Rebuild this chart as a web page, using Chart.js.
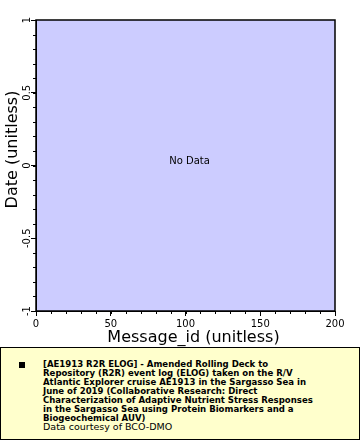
<!DOCTYPE html>
<html>
<head>
<meta charset="utf-8">
<script src="https://cdn.jsdelivr.net/npm/chart.js@4/dist/chart.umd.min.js"></script>
<style>
  html, body { margin: 0; padding: 0; background: #ffffff; }
  body { width: 360px; height: 440px; position: relative; overflow: hidden; }
  #wrap { position: absolute; left: 0; top: 0; width: 360px; height: 350px; }
  #legend {
    position: absolute; left: 0; top: 347px; width: 360px; height: 93px;
    box-sizing: border-box; border: 1px solid #000; background: #FFFFCC;
    color: #000;
  }
  #legend .mark { position: absolute; left: 18px; top: 14px; width: 6px; height: 6px; background: #000; }
  #legend .txt { position: absolute; left: 42px; top: 11px; width: 315px; font-size: 9.5px; line-height: 9px; }
  #legend .txt div { height: 9px; line-height: 9px; white-space: nowrap; }
  #legend .t { font-family: "DejaVu Sans Condensed", "DejaVu Sans", sans-serif; font-stretch: condensed; font-weight: bold; font-size: 9.5px; }
  #legend .c { font-family: "DejaVu Sans", sans-serif; font-size: 9.5px; }
</style>
</head>
<body>
<div id="wrap"><canvas id="c"></canvas></div>
<div id="legend">
  <div class="mark"></div>
  <div class="txt" id="ltxt"></div>
</div>
<script>
// ---- data (the dataset is empty: "No Data") ----
const messageIds = [];
const dates = [];
const xTickValues = [0, 50, 100, 150, 200];
const yTickValues = [-1, -0.5, 0, 0.5, 1];
const xMinorStep = 10;
const yMinorStep = 0.1;
const xTitle = "Message_id (unitless)";
const yTitle = "Date (unitless)";
const noDataText = "No Data";
const legendLines = [
  "[AE1913 R2R ELOG] - Amended Rolling Deck to",
  "Repository (R2R) event log (ELOG) taken on the R/V",
  "Atlantic Explorer cruise AE1913 in the Sargasso Sea in",
  "June of 2019 (Collaborative Research: Direct",
  "Characterization of Adaptive Nutrient Stress Responses",
  "in the Sargasso Sea using Protein Biomarkers and a",
  "Biogeochemical AUV)"
];
const legendCredit = "Data courtesy of BCO-DMO";

const ltxt = document.getElementById('ltxt');
legendLines.forEach(s => { const d = document.createElement('div'); d.className = 't'; d.textContent = s; ltxt.appendChild(d); });
{ const d = document.createElement('div'); d.className = 'c'; d.textContent = legendCredit; ltxt.appendChild(d); }

const bgPlugin = {
  id: 'bgPlugin',
  beforeDraw(chart) {
    const {ctx, chartArea: a} = chart;
    ctx.save();
    ctx.fillStyle = '#CCCCFF';
    ctx.fillRect(a.left, a.top, a.right - a.left, a.bottom - a.top);
    ctx.restore();
  },
  afterDraw(chart) {
    const {ctx, chartArea: a} = chart;
    const xs = chart.scales.x, ys = chart.scales.y;
    ctx.save();
    ctx.strokeStyle = '#000';
    ctx.lineWidth = 1;
    // minor ticks
    ctx.beginPath();
    for (let i = 0; i <= Math.round((xs.max - xs.min) / xMinorStep); i++) {
      const v = xs.min + i * xMinorStep;
      const px = Math.round(xs.getPixelForValue(v)) + 0.5;
      ctx.moveTo(px, a.bottom); ctx.lineTo(px, a.bottom + 3);
    }
    for (let i = 0; i <= Math.round((ys.max - ys.min) / yMinorStep); i++) {
      const v = ys.min + i * yMinorStep;
      const py = Math.round(ys.getPixelForValue(v)) + 0.5;
      ctx.moveTo(a.left, py); ctx.lineTo(a.left - 3, py);
    }
    ctx.stroke();
    // frame
    ctx.lineWidth = 1.5;
    ctx.strokeRect(a.left, a.top, a.right - a.left, a.bottom - a.top);
    // no data text
    ctx.fillStyle = '#000';
    ctx.font = '10px "DejaVu Sans", sans-serif';
    ctx.textAlign = 'center';
    ctx.textBaseline = 'middle';
    ctx.fillText(noDataText, (a.left + a.right) / 2 + 4, (a.top + a.bottom) / 2 - 4);
    // axis titles
    ctx.font = '16px "DejaVu Sans", sans-serif';
    ctx.fillText(xTitle, (a.left + a.right) / 2 + 8, a.bottom + 27);
    ctx.translate(a.left - 23, (a.top + a.bottom) / 2 - 16);
    ctx.rotate(-Math.PI / 2);
    ctx.fillText(yTitle, 0, 0);
    ctx.restore();
  }
};

new Chart(document.getElementById('c'), {
  type: 'scatter',
  data: { datasets: [{ data: messageIds.map((x, i) => ({x, y: dates[i]})), pointRadius: 2, backgroundColor: '#000' }] },
  options: {
    responsive: true,
    maintainAspectRatio: false,
    animation: false,
    layout: { padding: { left: 0, top: 20, right: 25, bottom: 0 } },
    plugins: { legend: { display: false }, tooltip: { enabled: false } },
    scales: {
      x: {
        type: 'linear', min: 0, max: 200,
        afterBuildTicks(s) { s.ticks = xTickValues.map(v => ({value: v})); },
        afterFit(s) { s.height = 39; },
        ticks: { font: { family: 'DejaVu Sans', size: 10 }, color: '#000', padding: 2, maxRotation: 0, autoSkip: false },
        grid: { display: true, drawOnChartArea: false, drawTicks: true, tickLength: 5, tickColor: '#000', tickWidth: 1 },
        border: { display: true, color: '#000', width: 1 },
        title: { display: false }
      },
      y: {
        type: 'linear', min: -1, max: 1,
        afterBuildTicks(s) { s.ticks = yTickValues.map(v => ({value: v})); },
        afterFit(s) { s.width = 36; },
        ticks: { font: { family: 'DejaVu Sans', size: 10 }, color: '#000', padding: -6, crossAlign: 'center',
                 minRotation: 90, maxRotation: 90, autoSkip: false, callback: v => String(v) },
        grid: { display: true, drawOnChartArea: false, drawTicks: true, tickLength: 5, tickColor: '#000', tickWidth: 1 },
        border: { display: true, color: '#000', width: 1 },
        title: { display: false }
      }
    }
  },
  plugins: [bgPlugin]
});
</script>
</body>
</html>
